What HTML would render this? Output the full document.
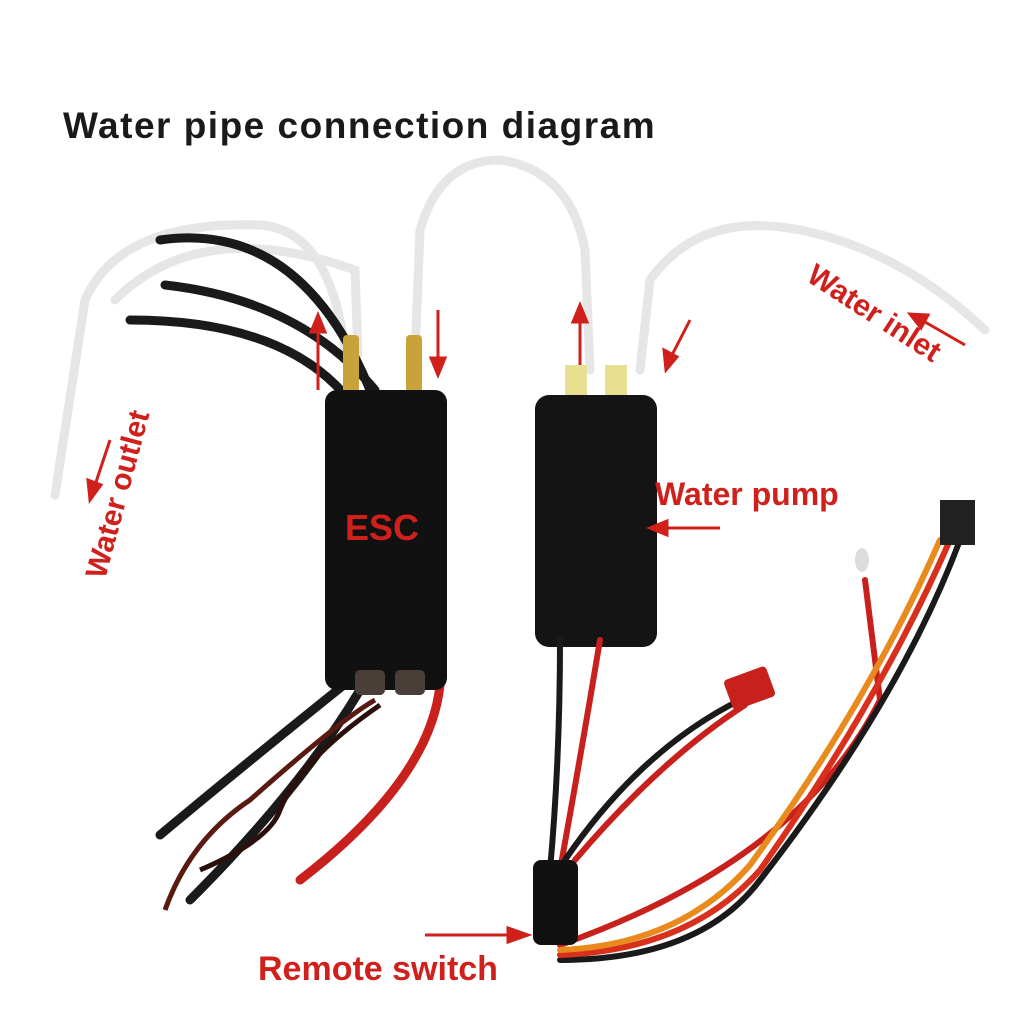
<!DOCTYPE html>
<html><head><meta charset="utf-8"><style>
html,body{margin:0;padding:0;background:#fff;}
svg{display:block}
text{font-family:"Liberation Sans","DejaVu Sans",sans-serif;}
</style></head><body>
<svg width="1024" height="1024" viewBox="0 0 1024 1024" xmlns="http://www.w3.org/2000/svg">
<rect width="1024" height="1024" fill="#fff"/>
<text x="63" y="138" font-size="37" font-weight="bold" fill="#1a1a1a" letter-spacing="1.5">Water pipe connection diagram</text>
<!-- tubes -->
<g fill="none" stroke="#e6e6e6" stroke-width="9" stroke-linecap="round">
<path d="M55 495 L85 300 Q120 220 260 225 Q330 230 345 350"/>
<path d="M115 300 Q200 215 355 270 L358 355"/>
<path d="M415 355 L420 230 Q440 160 500 160 Q570 170 585 250 L590 370"/>
<path d="M640 370 L650 280 Q700 210 800 230 Q900 250 985 330"/>
</g>
<!-- black wires ESC -->
<g fill="none" stroke="#1a1a1a" stroke-width="9" stroke-linecap="round">
<path d="M160 240 Q300 220 370 390"/>
<path d="M165 285 Q300 300 375 390"/>
<path d="M130 320 Q280 320 345 395"/>
<path d="M350 680 Q250 760 160 835"/>
<path d="M360 690 Q300 790 190 900"/>
</g>
<path d="M375 700 Q340 720 250 800 Q190 840 165 910" fill="none" stroke="#5a1a12" stroke-width="5"/>
<path d="M380 705 Q300 760 280 810 Q270 840 200 870" fill="none" stroke="#2a0f0a" stroke-width="5"/>
<path d="M440 685 Q430 780 300 880" fill="none" stroke="#c8201c" stroke-width="9" stroke-linecap="round"/>
<!-- brass fittings -->
<rect x="343" y="335" width="16" height="58" rx="4" fill="#c9a23a"/>
<rect x="406" y="335" width="16" height="58" rx="4" fill="#c9a23a"/>
<!-- ESC -->
<rect x="325" y="390" width="122" height="300" rx="12" fill="#111"/>
<rect x="355" y="670" width="30" height="25" rx="5" fill="#4a3f38"/>
<rect x="395" y="670" width="30" height="25" rx="5" fill="#4a3f38"/>
<text x="345" y="540" font-size="36" font-weight="bold" fill="#d0201c">ESC</text>
<!-- pump -->
<rect x="565" y="365" width="22" height="35" fill="#e8e090"/>
<rect x="605" y="365" width="22" height="35" fill="#e8e090"/>
<rect x="535" y="395" width="122" height="252" rx="14" fill="#141414"/>
<!-- pump wires -->
<g fill="none" stroke-width="6" stroke-linecap="round">
<path d="M560 640 Q560 760 550 870" stroke="#1a1a1a"/>
<path d="M600 640 Q580 760 560 870" stroke="#c8201c"/>
<path d="M740 700 Q640 750 565 860" stroke="#1a1a1a"/>
<path d="M745 705 Q660 760 575 860" stroke="#c8201c"/>
<path d="M865 580 L880 700 Q800 860 560 945" stroke="#c8201c"/>
<path d="M960 540 Q900 700 760 880 Q700 960 560 960" stroke="#1a1a1a"/>
<path d="M950 540 Q880 700 760 870 Q690 950 560 955" stroke="#d8301c"/>
<path d="M940 540 Q870 700 750 865 Q680 945 560 950" stroke="#e88a1c"/>
</g>
<rect x="727" y="672" width="45" height="32" rx="4" fill="#c8201c" transform="rotate(-20 750 688)"/>
<rect x="940" y="500" width="35" height="45" fill="#222"/>
<ellipse cx="862" cy="560" rx="7" ry="12" fill="#ddd"/>
<rect x="533" y="860" width="45" height="85" rx="8" fill="#111"/>
<!-- labels -->
<g fill="#d0201c" font-weight="bold">
<text transform="translate(105,580) rotate(-75)" font-size="30">Water outlet</text>
<text transform="translate(805,280) rotate(33)" font-size="30">Water inlet</text>
<text x="655" y="505" font-size="32">Water pump</text>
<text x="258" y="980" font-size="34">Remote switch</text>
</g>
<!-- arrows -->
<g stroke="#d0201c" stroke-width="3" fill="#d0201c">
<line x1="318" y1="390" x2="318" y2="330"/><polygon points="311,332 325,332 318,315"/>
<line x1="438" y1="310" x2="438" y2="360"/><polygon points="431,358 445,358 438,375"/>
<line x1="580" y1="365" x2="580" y2="320"/><polygon points="573,322 587,322 580,305"/>
<line x1="690" y1="320" x2="672" y2="355"/><polygon points="664,350 677,357 666,370"/>
<line x1="965" y1="345" x2="925" y2="322"/><polygon points="928,315 921,328 910,314"/>
<line x1="110" y1="440" x2="95" y2="485"/><polygon points="88,480 101,485 90,500"/>
<line x1="720" y1="528" x2="665" y2="528"/><polygon points="667,521 667,535 650,528"/>
<line x1="425" y1="935" x2="510" y2="935"/><polygon points="508,928 508,942 528,935"/>
</g>
</svg>
</body></html>
